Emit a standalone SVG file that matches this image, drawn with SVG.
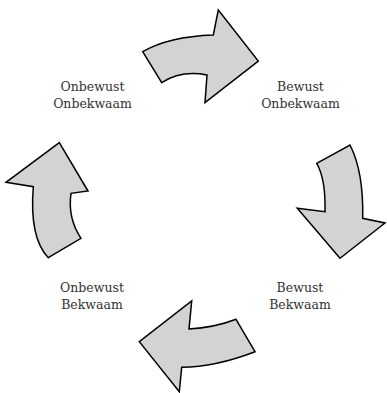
<svg xmlns="http://www.w3.org/2000/svg" width="387" height="393" viewBox="0 0 387 393">
<style>
.arrow{fill:#d3d3d3;stroke:#000;stroke-width:1.5;stroke-linejoin:miter}
.lbl{font-family:"DejaVu Serif","Liberation Serif",serif;font-size:12.5px;fill:#333;text-anchor:middle}
</style>
<rect width="387" height="393" fill="#fff"/>
<g id="connectors">
<path id="arrow-top" class="arrow" d="M142.7,51.7 L161.7,82.7 Q181,70 207,75 L205,102.7 L258.3,61 L218.3,10 L213.3,35 Q168.6,36.6 142.7,51.7 Z"/>
<path id="arrow-right" class="arrow" d="M316.7,163.3 L350,145 Q363.7,171.7 362.7,218.3 L385,223 L340,258.3 L297.3,208.3 L325,211.7 Q325.8,179 316.7,163.3 Z"/>
<path id="arrow-bottom" class="arrow" d="M236,319.3 L255,351.7 Q215,367 181.7,367.3 L179.3,391.7 L139.3,341.7 L191.7,301 L189,329 Q214,327.8 236,319.3 Z"/>
<path id="arrow-left" class="arrow" d="M48.3,257.7 L81,238.3 Q67.4,217.6 71,193.3 L88,191 L59.3,142.7 L6,182.3 L33.3,186.7 Q29.2,237.8 48.3,257.7 Z"/>
</g>
<g id="node-onbewust-onbekwaam">
<text class="lbl" x="92.5" y="90.5">Onbewust</text>
<text class="lbl" x="92.5" y="108">Onbekwaam</text>
</g>
<g id="node-bewust-onbekwaam">
<text class="lbl" x="300.5" y="90.5">Bewust</text>
<text class="lbl" x="300.5" y="108">Onbekwaam</text>
</g>
<g id="node-bewust-bekwaam">
<text class="lbl" x="300" y="291.5">Bewust</text>
<text class="lbl" x="300" y="309">Bekwaam</text>
</g>
<g id="node-onbewust-bekwaam">
<text class="lbl" x="92" y="291.5">Onbewust</text>
<text class="lbl" x="92" y="309">Bekwaam</text>
</g>
</svg>
